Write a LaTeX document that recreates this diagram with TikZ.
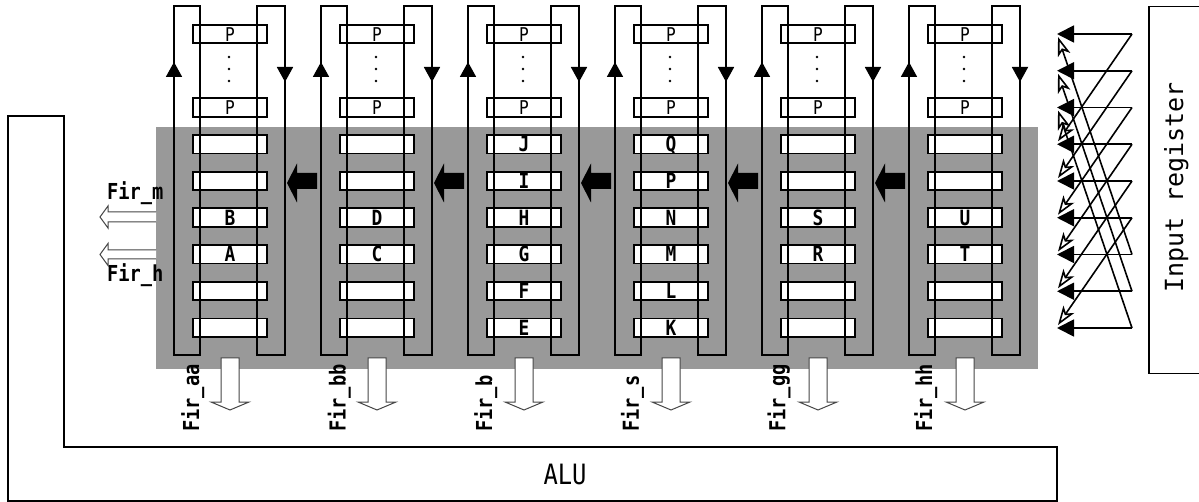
\documentclass[tikz,border=0pt]{standalone}
\usepackage{fontspec}
\setmainfont{DejaVu Sans Mono}
\newfontfamily\narrowmono[FakeStretch=0.85]{DejaVu Sans Mono}
\usetikzlibrary{arrows.meta}
\definecolor{areagray}{RGB}{153,153,153}
\definecolor{edge}{RGB}{70,70,70}
\tikzset{
  regbox/.style={draw=black, fill=white, line width=1.8pt, minimum width=74pt, minimum height=18.5pt, inner sep=0pt, outer sep=0pt},
  regtxt/.style={anchor=base, inner sep=0pt, font=\narrowmono\fontsize{21}{21}\selectfont\bfseries},
  ptxt/.style={anchor=base, inner sep=0pt, font=\narrowmono\fontsize{19}{19}\selectfont},
  loopbox/.style={draw=black, line width=1.8pt},
  flowmark/.style={-{Triangle[length=15pt,width=16pt]}, line width=1.8pt},
  hollowarrow/.style={draw=edge, fill=white, line width=1pt},
  firlbl/.style={inner sep=0pt, font=\narrowmono\fontsize{22}{22}\selectfont\bfseries},
  inarrow/.style={-{Triangle[length=17pt,width=17pt]}, line width=1.8pt},
  crossarrow/.style={-{Stealth[length=19pt,width=13pt,inset=5pt,fill=white]}, line width=1.6pt},
}
\begin{document}
\begin{tikzpicture}[x=1pt,y=-1pt]
\useasboundingbox (0,0) rectangle (1199,502);
% ALU frame
\draw[line width=1.5pt] (8,116) -- (64,116) -- (64,447) -- (1057,447) -- (1057,501) -- (8,501) -- cycle;
\node[font=\narrowmono\fontsize{28}{28}\selectfont, inner sep=0pt] (alu) at (565,474) {ALU};
% gray area
\fill[areagray] (156,127) rectangle (1038,369);
% register boxes
\foreach \k in {0,...,5}{
  \foreach \i in {-3,-1,0,1,2,3,4,5}{
    \node[regbox] (b\k-\i) at ({230+147*\k},{135+36.7*\i+9.25}) {};
  }
}
% loops
\foreach \k in {0,...,5}{
  \draw[loopbox] ({174+147*\k},6) rectangle ({200+147*\k},355);
  \draw[loopbox] ({257+147*\k},6) rectangle ({285+147*\k},355);
  \draw[flowmark] ({174+147*\k},100) -- ({174+147*\k},62);
  \draw[flowmark] ({285+147*\k},40) -- ({285+147*\k},82);
  \foreach \d in {57,69,81}{
    \fill ({229+147*\k},\d) circle (1.3);
  }
  \foreach \i in {-3,-1}{
    \node[ptxt] (p\k-\i) at ({230+147*\k},{135+36.7*\i+16.3}) {P};
  }
}
% letters
\foreach \k/\i/\t in {0/2/B,0/3/A,1/2/D,1/3/C,2/0/J,2/1/I,2/2/H,2/3/G,2/4/F,2/5/E,3/0/Q,3/1/P,3/2/N,3/3/M,3/4/L,3/5/K,4/2/S,4/3/R,5/2/U,5/3/T}{
  \node[regtxt] (t\k-\i) at ({230+147*\k},{135+36.7*\i+16.8}) {\t};
}
% block arrows between columns
\foreach \k in {0,...,4}{
  \fill ({287+147*\k},183) -- ({297+147*\k},163.5) -- ({297+147*\k},173) -- ({317+147*\k},173)
        -- ({317+147*\k},189) -- ({297+147*\k},189) -- ({297+147*\k},202.5) -- cycle;
}
% down hollow arrows and labels
\foreach \k/\n in {0/aa,1/bb,2/b,3/s,4/gg,5/hh}{
  \draw[hollowarrow] ({221+147*\k},358) -- ({239+147*\k},358) -- ({239+147*\k},402) -- ({249+147*\k},402)
        -- ({230+147*\k},410) -- ({211+147*\k},402) -- ({221+147*\k},402) -- cycle;
  \node[firlbl, rotate=90, anchor=base west] (fl\k) at ({199+146.6*\k},432) {Fir\_\n};
}
% left outputs
\fill[white] (156,212) -- (108,212) -- (108,206) -- (100,217) -- (108,228) -- (108,222) -- (156,222) -- cycle;
\draw[edge, line width=1pt] (156,212) -- (108,212) -- (108,206) -- (100,217) -- (108,228) -- (108,222) -- (156,222);
\fill[white] (156,250) -- (108,250) -- (108,243.5) -- (100,254.5) -- (108,265.5) -- (108,259) -- (156,259) -- cycle;
\draw[edge, line width=1pt] (156,250) -- (108,250) -- (108,243.5) -- (100,254.5) -- (108,265.5) -- (108,259) -- (156,259);
\node[firlbl, anchor=base west] (fm) at (107,200) {Fir\_m};
\node[firlbl, anchor=base west] (fh) at (107,282) {Fir\_h};
% input register
\node[draw, line width=1.5pt, anchor=north west, minimum width=70pt, minimum height=367pt, inner sep=0pt] (inreg) at (1148,6) {};
\node[rotate=90, anchor=base, inner sep=0pt, font=\fontsize{25}{25}\selectfont] (irtxt) at (1183,187.5) {Input register};
% crossing input arrows
\foreach \i in {0,...,8}{
  \coordinate (src\i) at (1132,{34+36.75*\i});
  \coordinate (dst\i) at (1057,{34+36.75*\i});
  \draw[inarrow] (src\i) -- (dst\i);
}
\foreach \j in {3,...,8}{
  \pgfmathtruncatemacro\s{\j-3}
  \coordinate (ht\j) at (1058,{34+36.75*\j-3});
  \draw[crossarrow] (src\s) -- (ht\j);
}
\foreach \j in {0,1,2}{
  \pgfmathtruncatemacro\s{\j+6}
  \coordinate (hb\j) at (1058,{34+36.75*\j+3});
  \draw[crossarrow] (src\s) -- (hb\j);
}
\end{tikzpicture}
\end{document}
